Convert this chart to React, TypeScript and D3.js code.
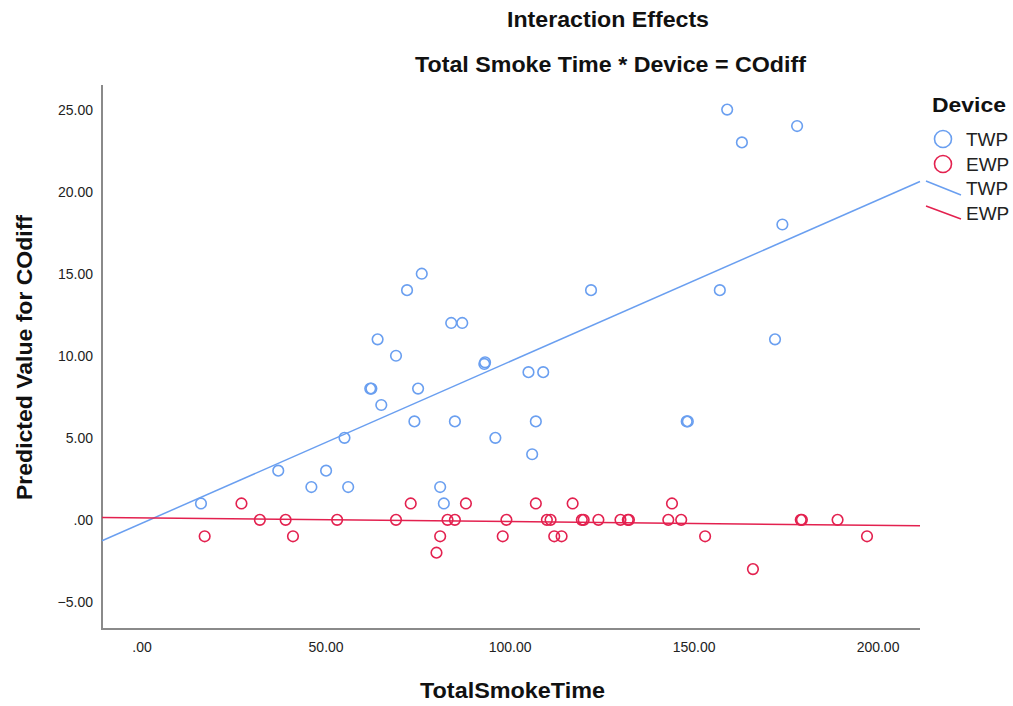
import React from 'react';
import * as d3 from 'd3';

// TWP points (TotalSmokeTime, COdiff)
const twpX = [16, 37, 46, 50, 55, 56, 62, 62.3, 64, 65, 69, 72, 74, 75, 76, 81, 82, 84, 85, 87, 93, 93.2, 96, 105, 106, 107, 109, 122, 148, 148.3, 157, 159, 163, 172, 174, 178];
const twpY = [1, 3, 2, 3, 5, 2, 8, 8, 11, 7, 10, 14, 6, 8, 15, 2, 1, 12, 6, 12, 9.5, 9.6, 5, 9, 4, 6, 9, 14, 6, 6, 14, 25, 23, 11, 18, 24];

// EWP points
const ewpX = [17, 27, 32, 39, 41, 53, 69, 73, 80, 81, 83, 85, 88, 98, 99, 107, 110, 111, 112, 114, 117, 119.5, 120, 124, 130, 132, 132.3, 143, 144, 146.5, 153, 166, 179, 179.3, 189, 197];
const ewpY = [-1, 1, 0, 0, -1, 0, 0, 1, -2, -1, 0, 0, 1, -1, 0, 1, 0, 0, -1, -1, 1, 0, 0, 0, 0, 0, 0, 0, 1, 0, -1, -3, 0, 0, 0, -1];

// fit lines: [intercept, slope]
const twpFit = [-0.2, 0.0985];
const ewpFit = [0.125, -0.0023];

const xTicks = [0, 50, 100, 150, 200];
const yTicks = [-5, 0, 5, 10, 15, 20, 25];

const BLUE = '#6a9ff0';
const RED = '#e3214f';
const FONT = '"Liberation Sans", Arial, sans-serif';

const fmt = (v: number) => {
  const s = d3.format('.2f')(v);
  return s.replace(/^0\./, '.').replace(/^-0\./, '-.');
};

const App = () => {
  const width = 1013;
  const height = 706;
  const left = 102, right = 920, top = 85, bottom = 629;

  const x = d3.scaleLinear().domain([-10.9, 211.4]).range([left, right]);
  const y = d3.scaleLinear().domain([-6.65, 26.5]).range([bottom, top]);

  const fitLine = (fit: number[]) => {
    const [x0, x1] = x.domain();
    return d3.line<number>()
      .x((d) => x(d))
      .y((d) => y(fit[0] + fit[1] * d))([x0, x1]);
  };

  const twp = twpX.map((v, i) => ({ x: v, y: twpY[i] }));
  const ewp = ewpX.map((v, i) => ({ x: v, y: ewpY[i] }));

  return (
    <svg width={width} height={height} style={{ position: 'absolute', left: 0, top: 0, background: '#fff' }} fontFamily={FONT}>
      <text x={507} y={27} textLength={202} lengthAdjust="spacingAndGlyphs" fontSize={22} fontWeight="bold" fill="#111">Interaction Effects</text>
      <text x={415} y={72} textLength={391} lengthAdjust="spacingAndGlyphs" fontSize={22} fontWeight="bold" fill="#111">Total Smoke Time * Device = COdiff</text>

      {/* axes */}
      <line x1={left} x2={left} y1={top} y2={bottom + 1} stroke="#8a8a8a" strokeWidth={2} />
      <line x1={left} x2={right} y1={bottom} y2={bottom} stroke="#8a8a8a" strokeWidth={2} />

      {yTicks.map((t) => (
        <text key={t} x={93} y={y(t)} dy="0.35em" textAnchor="end" fontSize={14} fill="#222">{fmt(t)}</text>
      ))}
      {xTicks.map((t) => (
        <text key={t} x={x(t)} y={647} dy="0.35em" textAnchor="middle" fontSize={14} fill="#222">{fmt(t)}</text>
      ))}

      <text x={420} y={698} textLength={185} lengthAdjust="spacingAndGlyphs" fontSize={22} fontWeight="bold" fill="#111">TotalSmokeTime</text>
      <text transform={`translate(32, 500) rotate(-90)`} textLength={285} lengthAdjust="spacingAndGlyphs" fontSize={22} fontWeight="bold" fill="#111">Predicted Value for COdiff</text>

      {/* fit lines */}
      <path d={fitLine(twpFit) || ''} stroke={BLUE} strokeWidth={1.5} fill="none" />
      <path d={fitLine(ewpFit) || ''} stroke={RED} strokeWidth={1.5} fill="none" />

      {twp.map((d, i) => (
        <circle key={'t' + i} cx={x(d.x)} cy={y(d.y)} r={5.3} fill="none" stroke={BLUE} strokeWidth={1.6} />
      ))}
      {ewp.map((d, i) => (
        <circle key={'e' + i} cx={x(d.x)} cy={y(d.y)} r={5.3} fill="none" stroke={RED} strokeWidth={1.6} />
      ))}

      {/* legend */}
      <text x={932} y={112} textLength={74} lengthAdjust="spacingAndGlyphs" fontSize={21} fontWeight="bold" fill="#111">Device</text>
      <circle cx={943} cy={139} r={8.5} fill="none" stroke={BLUE} strokeWidth={1.6} />
      <text x={966} y={139} dy="0.36em" fontSize={19} fill="#222">TWP</text>
      <circle cx={943} cy={164} r={8.5} fill="none" stroke={RED} strokeWidth={1.6} />
      <text x={966} y={164} dy="0.36em" fontSize={19} fill="#222">EWP</text>
      <line x1={926} y1={181} x2={961} y2={195} stroke={BLUE} strokeWidth={1.5} />
      <text x={966} y={188} dy="0.36em" fontSize={19} fill="#222">TWP</text>
      <line x1={926} y1={206} x2={961} y2={219} stroke={RED} strokeWidth={1.5} />
      <text x={966} y={213} dy="0.36em" fontSize={19} fill="#222">EWP</text>
    </svg>
  );
};

export default App;
